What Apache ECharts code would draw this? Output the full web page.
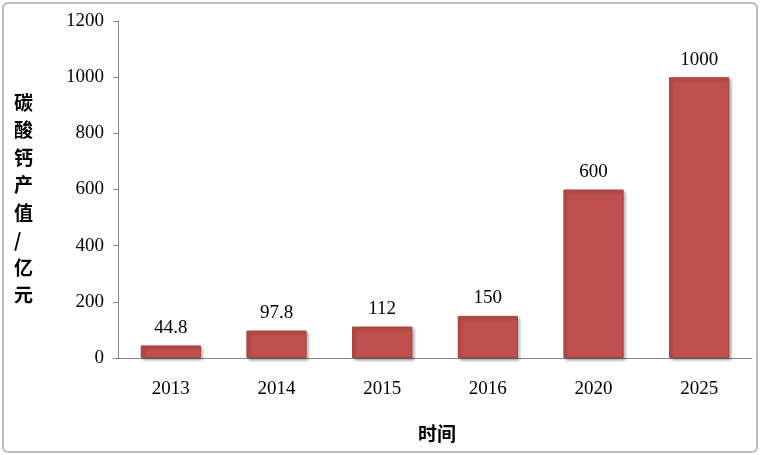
<!DOCTYPE html>
<html><head><meta charset="utf-8">
<script src="https://cdn.jsdelivr.net/npm/echarts@6/dist/echarts.min.js"></script>
<style>
html,body{margin:0;padding:0;background:#fff}
#c{width:756px;height:451px;border:2px solid #bbb;border-radius:6px;box-sizing:border-box;margin:2px}
</style></head>
<body><div id="c"></div>
<script>
// 年份
var years = ['2013', '2014', '2015', '2016', '2020', '2025'];
// 产值（亿元）
var values = [44.8, 97.8, 112, 150, 600, 1000];
var yTicks = [0, 200, 400, 600, 800, 1000, 1200];

var chart = echarts.init(document.getElementById('c'));
chart.setOption({
    animation: false,
    textStyle: {fontFamily: 'Liberation Serif'},
    grid: {left: 114, right: 4, top: 17, bottom: 93},
    graphic: [{
        type: 'text', left: 10, top: 85,
        style: {text: '碳\n酸\n钙\n产\n值\n/\n亿\n元', fontFamily: 'Noto Sans CJK SC',
            fontSize: 19, fontWeight: 'bold', lineHeight: 27.5, fill: '#000'}
    }, {
        type: 'text', left: 414, top: 420,
        style: {text: '时间', fontFamily: 'Noto Sans CJK SC', fontSize: 19, fontWeight: 'bold', fill: '#000'}
    }],
    xAxis: {
        type: 'category', data: years,
        axisLine: {lineStyle: {color: '#888'}},
        axisTick: {show: false},
        axisLabel: {color: '#000', fontSize: 19, margin: 22}
    },
    yAxis: {
        type: 'value', min: yTicks[0], max: yTicks[yTicks.length - 1], interval: 200,
        axisLine: {show: true, lineStyle: {color: '#888'}},
        axisTick: {show: true, length: 5, lineStyle: {color: '#888'}},
        splitLine: {show: false},
        axisLabel: {color: '#000', fontSize: 19, margin: 14, formatter: function (v) { return String(v); }}
    },
    series: [{
        type: 'bar', data: values, barWidth: '57%',
        itemStyle: {color: '#C0504D', borderColor: '#A8403D', borderWidth: 1,
            shadowColor: 'rgba(0,0,0,0.35)', shadowBlur: 3, shadowOffsetX: 2, shadowOffsetY: 2},
        label: {show: true, position: 'top', distance: 8, color: '#000', fontSize: 19}
    }]
});
</script></body></html>
